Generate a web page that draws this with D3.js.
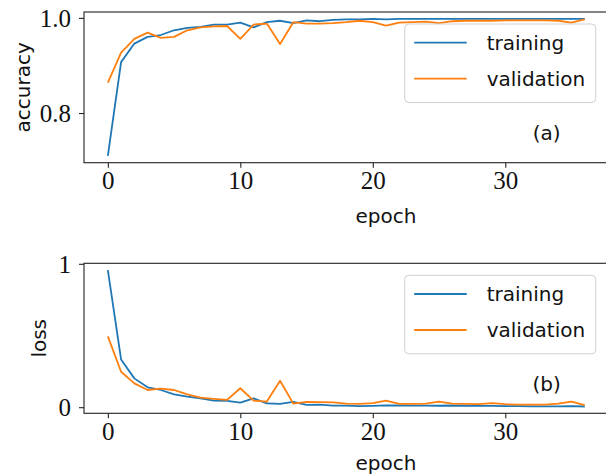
<!DOCTYPE html>
<html><head><meta charset="utf-8">
<script src="https://cdn.jsdelivr.net/npm/d3@7"></script>
<style>body{margin:0;background:#fff}svg{display:block}</style>
</head><body>
<svg id="c" width="606" height="476"></svg>
<script>
const epochs = d3.range(0, 37);
const accTrain = [0.710,0.907,0.946,0.960,0.964,0.974,0.979,0.981,0.986,0.986,0.990,0.980,0.991,0.994,0.989,0.995,0.993,0.996,0.997,0.997,0.998,0.997,0.998,0.998,0.998,0.998,0.998,0.998,0.998,0.998,0.998,0.998,0.998,0.998,0.998,0.998,0.998];
const accVal = [0.864,0.927,0.956,0.969,0.958,0.960,0.974,0.980,0.982,0.983,0.956,0.986,0.988,0.945,0.991,0.988,0.988,0.989,0.991,0.994,0.991,0.984,0.990,0.991,0.992,0.989,0.993,0.994,0.994,0.994,0.995,0.995,0.995,0.995,0.994,0.990,0.997];
const lossTrain = [0.956,0.333,0.201,0.139,0.120,0.090,0.074,0.062,0.046,0.044,0.032,0.062,0.026,0.023,0.037,0.016,0.018,0.011,0.011,0.007,0.009,0.013,0.012,0.011,0.011,0.010,0.012,0.010,0.009,0.009,0.008,0.007,0.006,0.006,0.006,0.007,0.005];
const lossVal = [0.494,0.247,0.166,0.120,0.129,0.120,0.090,0.067,0.058,0.051,0.132,0.046,0.039,0.184,0.025,0.037,0.035,0.033,0.025,0.023,0.028,0.046,0.023,0.023,0.025,0.039,0.025,0.023,0.021,0.028,0.021,0.018,0.018,0.018,0.025,0.039,0.014];
const xTicks = [0, 10, 20, 30];
const accTicks = [0.8, 1.0];
const lossTicks = [0, 1];
const seriesNames = ["training", "validation"];
const colors = ["#1f77b4", "#ff7f0e"];

const svg = d3.select("#c");
const serif = "'Liberation Serif', serif";
const sans = "'DejaVu Sans', sans-serif";

function padDomain(arrs) {
  const all = arrs.flat();
  const lo = d3.min(all), hi = d3.max(all), r = hi - lo;
  return [lo - 0.05 * r, hi + 0.05 * r];
}

const L = 84, R = 608.6;
const x = d3.scaleLinear().domain(padDomain([epochs])).range([L, R]);

function panel(top, bottom, series, yTicks, yFmt, yLabel, yLabelX, tag, epochDy) {
  const y = d3.scaleLinear().domain(padDomain(series)).range([bottom, top]);
  const g = svg.append("g");
  series.forEach((s, i) => {
    g.append("path").datum(s)
      .attr("fill", "none").attr("stroke", colors[i]).attr("stroke-width", 1.8)
      .attr("stroke-linejoin", "round")
      .attr("d", d3.line().x((d, j) => x(epochs[j])).y(d => y(d)));
  });
  g.append("rect").attr("x", L).attr("y", top).attr("width", R - L).attr("height", bottom - top)
    .attr("fill", "none").attr("stroke", "#222").attr("stroke-width", 1.1);
  const ax = g.append("g").attr("transform", `translate(0,${bottom})`)
    .call(d3.axisBottom(x).tickValues(xTicks).tickSize(5).tickPadding(4).tickFormat(d3.format("d")));
  ax.select(".domain").remove();
  ax.selectAll("line").attr("stroke", "#222").attr("stroke-width", 1.1);
  ax.selectAll("text").attr("font-family", serif).attr("font-size", 25).attr("fill", "#111").attr("dy", "0.71em");
  const ay = g.append("g").attr("transform", `translate(${L},0)`)
    .call(d3.axisLeft(y).tickValues(yTicks).tickSize(5).tickPadding(8).tickFormat(yFmt));
  ay.select(".domain").remove();
  ay.selectAll("line").attr("stroke", "#222").attr("stroke-width", 1.1);
  ay.selectAll("text").attr("font-family", serif).attr("font-size", 25).attr("fill", "#111").attr("dy", "0.34em");
  g.append("text").attr("x", (L + 606) / 2 + 41).attr("y", bottom + epochDy)
    .attr("text-anchor", "middle").attr("font-family", sans).attr("font-size", 20).attr("fill", "#111").text("epoch");
  g.append("text").attr("transform", `translate(${yLabelX},${(top + bottom) / 2}) rotate(-90)`)
    .attr("text-anchor", "middle").attr("font-family", sans).attr("font-size", 20).attr("fill", "#111").text(yLabel);
  const lx = 404.7, ly = top + 12, lw = 191, lh = 78.5;
  const lg = g.append("g");
  lg.append("rect").attr("x", lx).attr("y", ly).attr("width", lw).attr("height", lh)
    .attr("rx", 4).attr("fill", "#fff").attr("fill-opacity", 0.8).attr("stroke", "#d0d0d0").attr("stroke-width", 1);
  seriesNames.forEach((n, i) => {
    const yy = ly + 18.7 + i * 36;
    lg.append("line").attr("x1", lx + 9.5).attr("x2", lx + 62).attr("y1", yy).attr("y2", yy)
      .attr("stroke", colors[i]).attr("stroke-width", 1.8);
    lg.append("text").attr("x", lx + 82).attr("y", yy + 7).attr("font-family", sans).attr("font-size", 20)
      .attr("fill", "#111").text(n);
  });
  g.append("text").attr("x", 546.7).attr("y", top + 128).attr("text-anchor", "middle")
    .attr("font-family", sans).attr("font-size", 20).attr("fill", "#111").text(tag);
}

panel(12, 162.7, [accTrain, accVal], accTicks, d3.format(".1f"), "accuracy", 30, "(a)", 60);
panel(263.3, 413.3, [lossTrain, lossVal], lossTicks, d3.format("d"), "loss", 46, "(b)", 57);
</script>
</body></html>
